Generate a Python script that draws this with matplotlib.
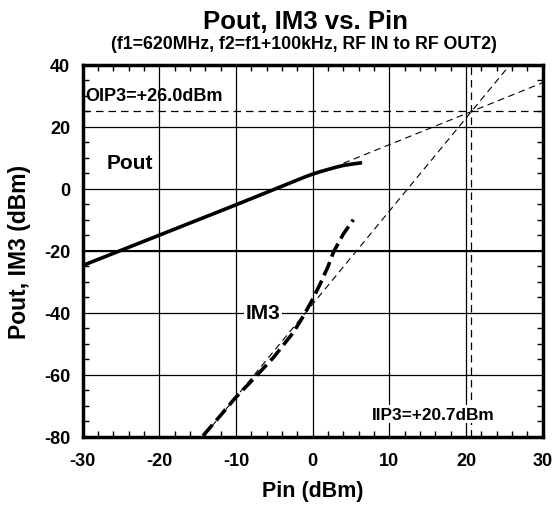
import numpy as np
import matplotlib.pyplot as plt
from matplotlib.ticker import MultipleLocator

plt.rcParams['font.family'] = ['Liberation Sans', 'DejaVu Sans']
plt.rcParams['font.weight'] = 'bold'
plt.rcParams['axes.labelweight'] = 'bold'
plt.rcParams['axes.unicode_minus'] = False

# Pout medido
pin_pout = [-30, -25, -20, -15, -10, -5, -3, -1, 0, 1, 2, 3, 4, 5, 6.2]
pout = [-24.7, -19.8, -14.9, -10.0, -5.1, -0.1, 1.9, 3.9, 4.8, 5.6, 6.3, 7.0, 7.6, 8.0, 8.4]

# IM3 medido
pin_im3 = [-14.3, -12, -10.1, -7.5, -5.1, -2.5, -1.2, -0.1, 1.0, 2.0, 2.7, 4.0, 5.3]
im3 = [-79.6, -73.0, -67.4, -60.7, -54.3, -46.2, -40.9, -36.0, -30.5, -25.0, -20.4, -14.5, -9.9]

# retas extrapoladas (inclinação 1 e 3)
iip3 = 20.7
oip3_linha = 25.0
pin_ext_pout = [4.0, 30.0]
pin_ext_im3 = [-15.0, 25.3]

x_ticks = [-30, -20, -10, 0, 10, 20, 30]
y_ticks = [-80, -60, -40, -20, 0, 20, 40]

fig = plt.figure(figsize=(5.6, 5.06), dpi=100)
ax = fig.add_axes([0.1475, 0.1344, 0.8218, 0.7352])

ax.set_xlim(-30, 30)
ax.set_ylim(-80, 40)
ax.set_xticks(x_ticks)
ax.set_yticks(y_ticks)
for lab in ax.get_xticklabels() + ax.get_yticklabels():
    lab.set_fontweight('bold')
ax.xaxis.set_minor_locator(MultipleLocator(2))
ax.yaxis.set_minor_locator(MultipleLocator(5))
ax.tick_params(which='both', direction='in', top=True, right=True, labelsize=13)
ax.tick_params(which='major', length=0)
ax.tick_params(axis='x', which='major', pad=11)
ax.tick_params(axis='y', which='major', pad=9)
ax.tick_params(which='minor', length=4, width=1)
for s in ax.spines.values():
    s.set_linewidth(2.5)

ax.grid(True, which='major', color='black', linewidth=0.9)
ax.axhline(-20, color='black', linewidth=1.5)

# extrapolação
ext_pout = [p - iip3 + oip3_linha for p in pin_ext_pout]
ext_im3 = [3 * (p - iip3) + oip3_linha for p in pin_ext_im3]
ax.plot(pin_ext_pout, ext_pout, color='black', linewidth=0.8, linestyle=(0, (6, 4)), zorder=3)
ax.plot(pin_ext_im3, ext_im3, color='black', linewidth=0.8, linestyle=(0, (6, 4)), zorder=3)
ax.axhline(oip3_linha, color='black', linewidth=0.9, linestyle=(0, (6, 4)), zorder=3)
ax.axvline(iip3, color='black', linewidth=0.9, linestyle=(0, (6, 4)), zorder=3)

ax.plot(pin_pout, pout, color='black', linewidth=2.6, zorder=4)
ax.plot(pin_im3, im3, color='black', linewidth=2.6, linestyle=(0, (4, 1.6)), zorder=4)

ax.text(-23.8, 8.7, 'Pout', fontsize=15, ha='center', va='center', zorder=5)
ax.text(-6.5, -40, 'IM3', fontsize=15, ha='center', va='center', zorder=5,
        bbox=dict(facecolor='white', edgecolor='none', pad=1))
ax.text(-29.6, 30.3, 'OIP3=+26.0dBm', fontsize=13, ha='left', va='center', zorder=5)
ax.text(15.75, -72.6, 'IIP3=+20.7dBm', fontsize=12.4, ha='center', va='center', zorder=5,
        bbox=dict(facecolor='white', edgecolor='none', pad=1))

fig.text(0.545, 0.957, 'Pout, IM3 vs. Pin', fontsize=18.5, ha='center', va='center')
fig.text(0.543, 0.913, '(f1=620MHz, f2=f1+100kHz, RF IN to RF OUT2)', fontsize=12.8,
         ha='center', va='center')
ax.set_xlabel('Pin (dBm)', fontsize=15.5, labelpad=8)
ax.set_ylabel('Pout, IM3 (dBm)', fontsize=16.5, labelpad=9)

fig.savefig('out.png', dpi=100)
